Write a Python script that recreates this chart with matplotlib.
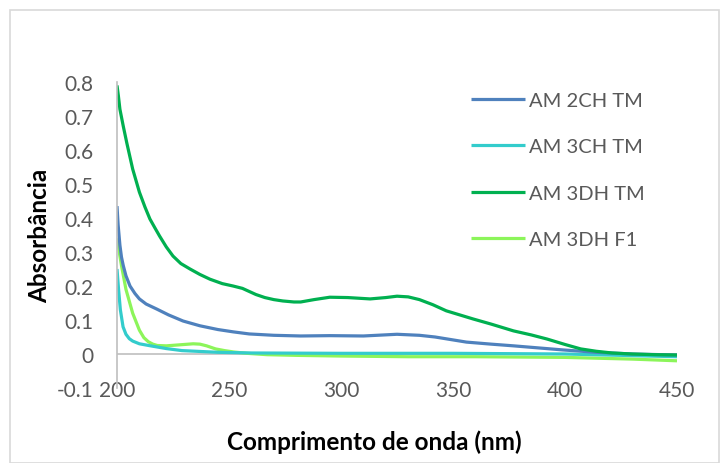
import numpy as np
import matplotlib
matplotlib.use("Agg")
import matplotlib.pyplot as plt
from matplotlib.patches import Rectangle

plt.rcParams['font.family'] = ['Lato', 'DejaVu Sans']

# wavelength (nm) and absorbance
wl_2ch = [200, 200.5, 201.3, 202, 202.8, 204, 205.8, 208, 210, 213, 217.8, 223, 229.5, 237,
          245, 252, 259, 270, 282, 295, 310, 325, 335, 342, 356, 367, 377, 388, 399, 414,
          430, 450]
abs_2ch = [0.435, 0.38, 0.32, 0.285, 0.26, 0.23, 0.2, 0.178, 0.162, 0.147, 0.132, 0.115,
           0.097, 0.083, 0.072, 0.065, 0.059, 0.055, 0.053, 0.054, 0.053, 0.058, 0.055,
           0.05, 0.035, 0.029, 0.024, 0.018, 0.012, 0.005, 0.0, -0.003]

wl_3ch = [200, 200.7, 201.5, 202.7, 204, 205.5, 207, 210, 215, 222, 229, 245, 260, 300,
          350, 400, 425, 450]
abs_3ch = [0.25, 0.19, 0.13, 0.08, 0.058, 0.045, 0.038, 0.03, 0.024, 0.016, 0.01, 0.005,
           0.003, 0.002, 0.002, 0.0, -0.004, -0.008]

wl_3dh = [200, 200.6, 201.3, 202.8, 204.4, 207, 210, 212.5, 214.7, 217, 219, 222, 225,
          228.5, 232.6, 237, 241.5, 247, 251.8, 256, 259, 262, 266, 270, 274, 279, 282,
          288, 295, 303, 313, 320, 325, 330, 335, 341, 347, 353, 359, 367, 377, 385, 392,
          400, 407, 414, 421, 430, 440, 450]
abs_3dh = [0.79, 0.76, 0.72, 0.67, 0.62, 0.544, 0.476, 0.432, 0.397, 0.37, 0.347, 0.315,
           0.288, 0.266, 0.25, 0.234, 0.22, 0.207, 0.2, 0.193, 0.184, 0.175, 0.166, 0.16,
           0.156, 0.153, 0.153, 0.16, 0.167, 0.166, 0.162, 0.166, 0.17, 0.168, 0.16,
           0.145, 0.127, 0.115, 0.103, 0.088, 0.068, 0.056, 0.044, 0.028, 0.015, 0.008,
           0.003, 0.0, -0.002, -0.003]

wl_f1 = [200, 201, 202, 204, 207, 210, 212, 214, 216, 218, 222, 228, 234, 237, 240, 244,
         248, 252, 258, 267, 280, 300, 330, 360, 400, 430, 450]
abs_f1 = [0.34, 0.30, 0.26, 0.19, 0.12, 0.07, 0.048, 0.036, 0.029, 0.025, 0.024, 0.027,
          0.03, 0.029, 0.024, 0.015, 0.01, 0.006, 0.002, -0.002, -0.004, -0.006, -0.008,
          -0.008, -0.01, -0.015, -0.02]

series = [
    ("AM 2CH TM", wl_2ch, abs_2ch, "#4F81BD"),
    ("AM 3CH TM", wl_3ch, abs_3ch, "#33CCCC"),
    ("AM 3DH TM", wl_3dh, abs_3dh, "#00B050"),
    ("AM 3DH F1", wl_f1, abs_f1, "#8CF55A"),
]

x_ticks = [200, 250, 300, 350, 400, 450]
y_ticks = [-0.1, 0, 0.1, 0.2, 0.3, 0.4, 0.5, 0.6, 0.7, 0.8]
y_labels = ["-0.1", "0", "0.1", "0.2", "0.3", "0.4", "0.5", "0.6", "0.7", "0.8"]

fig = plt.figure(figsize=(7.2, 4.64), dpi=100)
ax = fig.add_axes([117 / 720, 1 - 389 / 464, 560 / 720, 306 / 464])

# F1 drawn under the others near the baseline
order = [3, 1, 0, 2]
lines = {}
for i in order:
    name, x, y, c = series[i]
    lines[i], = ax.plot(x, y, color=c, lw=2.3, label=name,
                        solid_joinstyle='round', solid_capstyle='butt')

ax.set_xlim(200, 450)
ax.set_ylim(-0.1, 0.8)
ax.axhline(0, color="#BFBFBF", lw=1.2, zorder=0.5)

for s in ["top", "right", "bottom"]:
    ax.spines[s].set_visible(False)
ax.spines["left"].set_color("#BFBFBF")
ax.spines["left"].set_linewidth(1.2)

ax.set_xticks(x_ticks)
ax.set_yticks(y_ticks)
ax.set_yticklabels(y_labels)
ax.tick_params(axis="both", length=0, labelsize=15, labelcolor="#595959")
ax.tick_params(axis="y", pad=17)
ax.tick_params(axis="x", pad=-6)

ax.set_xlabel("Comprimento de onda (nm)", fontsize=17.5, fontweight="bold")
ax.xaxis.set_label_coords(0.46, -0.135)
ax.set_ylabel("Absorbância", fontsize=17.5, fontweight="bold", labelpad=4)

handles = [lines[i] for i in range(4)]
leg = ax.legend(handles, [s[0] for s in series], loc="upper left",
                bbox_to_anchor=(471 / 720, 1 - 93 / 464), bbox_transform=fig.transFigure,
                frameon=False, fontsize=14.5, handlelength=2.7, handletextpad=0.2,
                labelspacing=1.45, borderpad=0, borderaxespad=0)
for t in leg.get_texts():
    t.set_color("#595959")

fig.patches.append(Rectangle((10 / 720, 0), 709 / 720, 1 - 11 / 464, transform=fig.transFigure,
                             fill=False, edgecolor="#D9D9D9", lw=1.2))

fig.savefig("out.png", dpi=100)
